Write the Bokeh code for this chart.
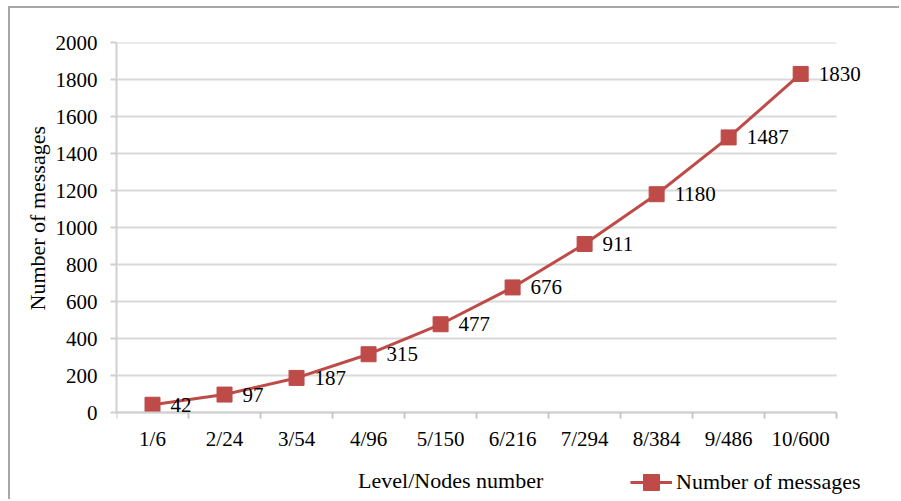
from bokeh.plotting import figure
from bokeh.models import (Range1d, FixedTicker, Legend, LegendItem, LinearAxis,
                          ColumnDataSource, Label, LabelSet, Title)
from bokeh.embed import file_html
from bokeh.resources import INLINE

categories = ["1/6", "2/24", "3/54", "4/96", "5/150", "6/216", "7/294", "8/384", "9/486", "10/600"]
messages = [42, 97, 187, 315, 477, 676, 911, 1180, 1487, 1830]
y_ticks = [0, 200, 400, 600, 800, 1000, 1200, 1400, 1600, 1800, 2000]

FONT = "Liberation Serif"
FS = "21px"
RED = "#BE4B48"
GRID = "#D9D9D9"
N = len(categories)

# category index -> centre of its slot on a numeric axis
xpos = [i + 0.5 for i in range(N)]
src = ColumnDataSource(dict(x=xpos, val=messages, lab=[str(v) for v in messages]))
cat_src = ColumnDataSource(dict(x=xpos, y=[0] * N, lab=categories))
grid_src = ColumnDataSource(dict(y=y_ticks, x0=[0] * len(y_ticks), x1=[N] * len(y_ticks)))

# frame extends past the axes (right and bottom) so labels outside the plot box stay visible
p = figure(width=891, height=493, x_range=Range1d(0, 10.9), y_range=Range1d(-481, 2000),
           output_backend="svg", toolbar_location=None, x_axis_location=None,
           min_border_left=106, min_border_right=0, min_border_top=34, min_border_bottom=0)
p.outline_line_color = None
p.styles = {"border-top": "2px solid #A6A6A6", "border-left": "2px solid #A6A6A6",
            "margin-left": "8px", "margin-top": "6px"}
p.xgrid.grid_line_color = None
p.ygrid.grid_line_color = None

p.segment(x0="x0", x1="x1", y0="y", y1="y", source=grid_src, line_color=GRID, line_width=2)

xaxis = LinearAxis(fixed_location=0, bounds=(0, N))
xaxis.ticker = FixedTicker(ticks=[], minor_ticks=list(range(N + 1)))
xaxis.major_tick_out = 0
xaxis.major_tick_in = 0
xaxis.minor_tick_out = 6
xaxis.minor_tick_in = 0
xaxis.minor_tick_line_color = "#C8C8C8"
xaxis.minor_tick_line_width = 2
xaxis.axis_line_color = "#D0D0D0"
xaxis.axis_line_width = 2
xaxis.major_label_text_font_size = "0px"
xaxis.major_label_standoff = 0
p.add_layout(xaxis, "below")

p.add_layout(LabelSet(x="x", y="y", text="lab", source=cat_src, y_offset=-26,
                      text_align="center", text_baseline="middle", text_font=FONT,
                      text_font_size=FS, text_color="black"))

ya = p.yaxis[0]
ya.bounds = (0, 2000)
ya.ticker = FixedTicker(ticks=y_ticks)
ya.axis_line_color = "#D0D0D0"
ya.axis_line_width = 2
ya.major_tick_out = 6
ya.major_tick_in = 0
ya.major_tick_line_color = "#D0D0D0"
ya.major_tick_line_width = 2
ya.minor_tick_line_color = None
ya.major_label_text_font = FONT
ya.major_label_text_font_size = FS
ya.major_label_text_color = "black"
ya.major_label_standoff = 13

p.add_layout(Title(text="Number of messages", align="left", offset=191, standoff=6,
                   text_font=FONT, text_font_size="22px", text_font_style="normal",
                   text_color="black"), "left")

line = p.line("x", "val", source=src, line_color=RED, line_width=3)
marks = p.scatter("x", "val", source=src, marker="square", size=15,
                  fill_color=RED, line_color=RED)
p.add_layout(LabelSet(x="x", y="val", text="lab", source=src, x_offset=18,
                      text_align="left", text_baseline="middle", text_font=FONT,
                      text_font_size=FS, text_color="black"))

p.add_layout(Label(x=4.64, y=-370, text="Level/Nodes number",
                   text_font=FONT, text_font_size="22px", text_color="black",
                   text_align="center", text_baseline="middle"))

legend = Legend(items=[LegendItem(label="Number of messages", renderers=[line, marks])],
                location=(514, -1), glyph_width=42, glyph_height=40,
                label_text_font=FONT, label_text_font_size="22px",
                label_text_color="black", border_line_color=None,
                background_fill_alpha=0, padding=2, margin=0, label_standoff=4)
p.add_layout(legend, "center")

open("out.html", "w").write(file_html(p, INLINE))
